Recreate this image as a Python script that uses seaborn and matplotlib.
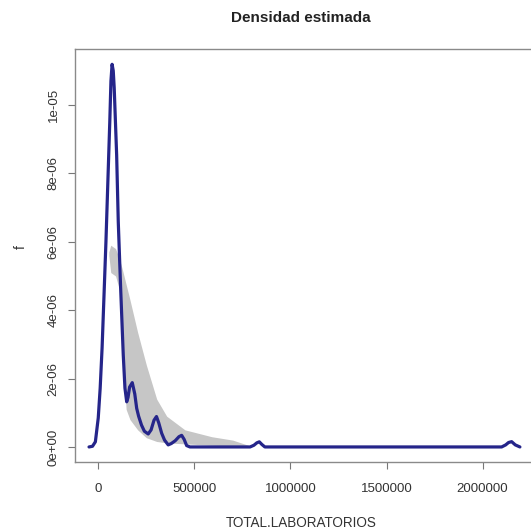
import matplotlib
matplotlib.use("Agg")
import matplotlib.pyplot as plt
import seaborn as sns

# density curve
line_x = [-48000, -30000, -15000, 0, 10000, 20000, 30000, 40000, 50000, 60000,
          66000, 72000, 78000, 83000, 95700, 104100, 116500, 130100, 138900, 148000,
          155000, 163000, 177000, 190000, 200000, 210000, 225000, 240000, 260000, 275000,
          290000, 303000, 315000, 330000, 345000, 364000, 380000, 400000, 420000, 434000,
          447000, 460000, 477000, 790000, 810000, 825000, 838000, 852000, 867000, 2099000,
          2120000, 2135000, 2151000, 2170000, 2194000]
line_y = [0, 2e-8, 1.5e-7, 8.5e-7, 1.72e-6, 2.9e-6, 4.44e-6, 6.0e-6, 7.76e-6, 9.51e-6,
          1.07e-5, 1.119e-5, 1.1e-5, 1.05e-5, 8.54e-6, 6.59e-6, 4.64e-6, 2.69e-6, 1.72e-6, 1.32e-6,
          1.45e-6, 1.75e-6, 1.88e-6, 1.55e-6, 1.13e-6, 9.0e-7, 6.4e-7, 4.6e-7, 3.8e-7, 5.0e-7,
          7.8e-7, 8.9e-7, 7.0e-7, 4.0e-7, 2.0e-7, 6e-8, 1.0e-7, 1.8e-7, 3.0e-7, 3.4e-7,
          2.2e-7, 4e-8, 0, 0, 5e-8, 1.2e-7, 1.5e-7, 7e-8, 0, 0,
          6e-8, 1.3e-7, 1.55e-7, 6e-8, 0]

# gray band
band_x = [55000, 65000, 90000, 110000, 125000, 145000, 165000, 205000, 250000, 304000,
          356000, 451000, 590000, 700000, 780000]
band_lo = [5.6e-6, 5.1e-6, 5.0e-6, 4.6e-6, 2.8e-6, 1.1e-6, 8e-7, 5e-7, 2.7e-7, 1.6e-7,
           1.2e-7, 9e-8, 5e-8, 3e-8, 0]
band_hi = [5.7e-6, 5.9e-6, 5.8e-6, 5.5e-6, 5.2e-6, 4.75e-6, 4.3e-6, 3.35e-6, 2.4e-6, 1.4e-6,
           9e-7, 5e-7, 3e-7, 2e-7, 5e-8]

xticks = [0, 500000, 1000000, 1500000, 2000000]
xtick_labels = ["0", "500000", "1000000", "1500000", "2000000"]
yticks = [0, 2e-6, 4e-6, 6e-6, 8e-6, 1e-5]
ytick_labels = ["0e+00", "2e-06", "4e-06", "6e-06", "8e-06", "1e-05"]

sns.set_style("white")
plt.rcParams['font.family'] = ['Liberation Sans', 'DejaVu Sans']

fig = plt.figure(figsize=(5.31, 5.32), dpi=100)
ax = fig.add_axes([75/531, 70/532, 462/531, 413/532])

ax.fill_between(band_x, band_lo, band_hi, color="#c6c6c6", linewidth=0)
sns.lineplot(x=line_x, y=line_y, ax=ax, color="#25258a", linewidth=2.3)

ax.set_xlim(-121000, 2283000)
ax.set_ylim(-4.4e-7, 1.1637e-5)

ax.set_xticks(xticks)
ax.set_xticklabels(xtick_labels)
ax.set_yticks(yticks)
ax.set_yticklabels(ytick_labels, rotation=90, va="center")

ax.tick_params(axis="both", bottom=True, left=True, direction="out", length=5,
               width=0.8, color="#777777", labelsize=9.5, labelcolor="#333333")
ax.tick_params(axis="x", pad=10)
ax.tick_params(axis="y", pad=6)
for s in ax.spines.values():
    s.set_color("#8a8a8a")
    s.set_linewidth(1.0)

ax.set_xlabel("TOTAL.LABORATORIOS", fontsize=9.75, color="#333333")
ax.xaxis.set_label_coords(0.49, -0.13)
ax.set_ylabel("f", fontsize=9.75, color="#333333")
ax.yaxis.set_label_coords(-0.102, 0.52)

fig.text(301/531, 1 - 18/532, "Densidad estimada", ha="center", va="center",
         fontsize=11, fontweight="bold", color="#222222")

fig.savefig("out.png", dpi=100)
